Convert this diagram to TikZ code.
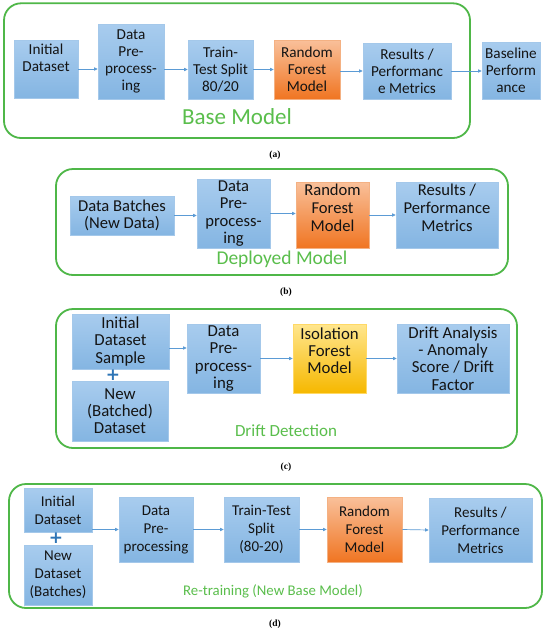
\documentclass[tikz,border=0pt]{standalone}
\usepackage{fontspec}
\setmainfont{Carlito}
\newfontfamily\capfont{Liberation Serif}
\newfontfamily\plusfont{DejaVu Sans}
\usetikzlibrary{arrows.meta,calc}
\definecolor{frameg}{HTML}{4FB748}
\definecolor{titleg}{HTML}{5ABE4C}
\definecolor{bluetop}{HTML}{A8CCEE}
\definecolor{bluebot}{HTML}{84B5E2}
\definecolor{blueedge}{HTML}{A4C8EA}
\definecolor{orangetop}{HTML}{F9C09A}
\definecolor{orangebot}{HTML}{F07522}
\definecolor{orangeedge}{HTML}{F4B183}
\definecolor{yellowtop}{HTML}{FFE68E}
\definecolor{yellowbot}{HTML}{F6B800}
\definecolor{yellowedge}{HTML}{FFD966}
\definecolor{arrowc}{HTML}{5B9BD5}
\definecolor{plusc}{HTML}{2E75B6}
\definecolor{txt}{HTML}{141414}
\newcommand{\liftup}[2]{\begin{tabular}{@{}c@{}}#2\\[#1]\end{tabular}}
\begin{document}
\begin{tikzpicture}[x=1pt,y=-1pt,
 box/.style={draw=blueedge, line width=0.6pt, top color=bluetop, bottom color=bluebot, align=center, inner sep=0pt, text=txt},
 obox/.style={box, draw=orangeedge, top color=orangetop, bottom color=orangebot},
 ybox/.style={box, draw=yellowedge, top color=yellowtop, bottom color=yellowbot},
 grframe/.style={draw=frameg, line width=1.8pt, rounded corners=17pt},
 ttl/.style={text=titleg, inner sep=0pt},
 captxt/.style={font=\capfont\bfseries\fontsize{9.5}{11}\selectfont, inner sep=0pt},
 arr/.style={draw=arrowc, line width=0.7pt, -{Triangle[length=3.5pt,width=3.2pt]}},
 plussign/.style={text=plusc, font=\plusfont\bfseries\fontsize{17}{17}\selectfont, inner sep=0pt},
 wh/.style 2 args={minimum width=#1, minimum height=#2}
]
\useasboundingbox (0,0) rectangle (550,635);
\fill[white] (0,0) rectangle (550,635);

% ---------- (a) ----------
\begin{scope}[box/.append style={font=\fontsize{15.2}{17}\selectfont}]
\draw[grframe] (4,3.3) rectangle (470,138);
\node[box, wh={64pt}{58pt}] (ia) at (46,69) {\liftup{19pt}{Initial\\Dataset}};
\node[box, wh={66pt}{75pt}] (dpa) at (131,61.5) {Data\\Pre-\\process-\\ing};
\node[box, wh={65pt}{59pt}] (tta) at (220.5,69.5) {Train-\\Test Split\\80/20};
\node[obox, wh={66pt}{59pt}] (rfa) at (307,69.5) {Random\\Forest\\Model};
\node[box, wh={88pt}{56pt}] (rea) at (407,71) {Results /\\Performanc\\e Metrics};
\node[box, wh={58pt}{57pt}] (bla) at (511,70.5) {Baseline\\Perform\\ance};
\node[ttl, font=\fontsize{23}{25}\selectfont] (ta) at (237,117) {Base Model};
\node[captxt] (capa) at (275,155) {(a)};
\draw[arr] (ia.east) -- (ia.east -| dpa.west);
\draw[arr] (tta.west -| dpa.east) -- (tta.west);
\draw[arr] (tta.east) -- (rfa.west);
\draw[arr] (rea.west -| rfa.east) -- (rea.west);
\draw[arr] (rea.east) -- (rea.east -| bla.west);
\end{scope}

% ---------- (b) ----------
\begin{scope}[box/.append style={font=\fontsize{16.6}{17.6}\selectfont}]
\draw[grframe] (56,169) rectangle (508,275);
\node[box, wh={104pt}{39pt}] (dbb) at (122,215.5) {Data Batches\\(New Data)};
\node[box, wh={73pt}{69pt}] (dpb) at (233.5,213.5) {Data\\Pre-\\process-\\ing};
\node[obox, wh={73pt}{66pt}] (rfb) at (332.5,215) {\liftup{10pt}{Random\\Forest\\Model}};
\node[box, wh={102pt}{66pt}] (reb) at (447,215) {\liftup{10pt}{Results /\\Performance\\Metrics}};
\node[ttl, font=\fontsize{19.5}{21}\selectfont] (tb) at (282,259) {Deployed Model};
\node[captxt] (capb) at (286,292) {(b)};
\draw[arr] (dbb.east) -- (dbb.east -| dpb.west);
\draw[arr] (dpb.east) -- (dpb.east -| rfb.west);
\draw[arr] (rfb.east) -- (rfb.east -| reb.west);
\end{scope}

% ---------- (c) ----------
\begin{scope}[box/.append style={font=\fontsize{16.8}{17.3}\selectfont}]
\draw[grframe] (56,309) rectangle (517,448);
\node[box, wh={97pt}{55pt}] (ic) at (120.5,341.5) {Initial\\Dataset\\Sample};
\node[plussign] (plc) at (113,375) {+};
\node[box, wh={96pt}{60pt}] (nc) at (120,411) {New\\(Batched)\\Dataset};
\node[box, wh={73pt}{69pt}] (dpc) at (223.5,358.5) {Data\\Pre-\\process-\\ing};
\node[ybox, wh={73pt}{69pt}] (ifc) at (329.5,358.5) {\liftup{11pt}{Isolation\\Forest\\Model}};
\node[box, wh={112pt}{69pt}] (drc) at (453,358.5) {Drift Analysis\\- Anomaly\\Score / Drift\\Factor};
\node[ttl, font=\fontsize{17}{19}\selectfont] (tc) at (286,431) {Drift Detection};
\node[captxt] (capc) at (286,467) {(c)};
\coordinate (c1) at ([yshift=-6.5pt]ic.east);
\draw[arr] (c1) -- (c1 -| dpc.west);
\draw[arr] (dpc.east) -- (ifc.west);
\draw[arr] (ifc.east) -- (drc.west);
\end{scope}

% ---------- (d) ----------
\begin{scope}[box/.append style={font=\fontsize{15}{18}\selectfont}]
\draw[grframe] (9,484) rectangle (542,608);
\node[box, wh={68pt}{44pt}] (id) at (58,510) {Initial\\Dataset};
\node[plussign] (pld) at (56,538) {+};
\node[box, wh={68pt}{60pt}] (nd) at (58,575) {New\\Dataset\\(Batches)};
\node[box, wh={74pt}{65pt}] (dpd) at (156,529.5) {Data\\Pre-\\processing};
\node[box, wh={75pt}{65pt}] (ttd) at (261.5,529.5) {Train-Test\\Split\\(80-20)};
\node[obox, wh={75pt}{65pt}] (rfd) at (364.5,529.5) {Random\\Forest\\Model};
\node[box, wh={103pt}{64pt}] (red) at (480.5,530) {Results /\\Performance\\Metrics};
\node[ttl, font=\fontsize{14.8}{17}\selectfont] (td) at (273,591) {Re-training (New Base Model)};
\node[captxt] (capd) at (275,624) {(d)};
\draw[arr] (id.east |- dpd.west) -- (dpd.west);
\draw[arr] (dpd.east) -- (ttd.west);
\draw[arr] (ttd.east) -- (rfd.west);
\draw[arr] (rfd.east) -- (red.west);
\end{scope}
\end{tikzpicture}
\end{document}
